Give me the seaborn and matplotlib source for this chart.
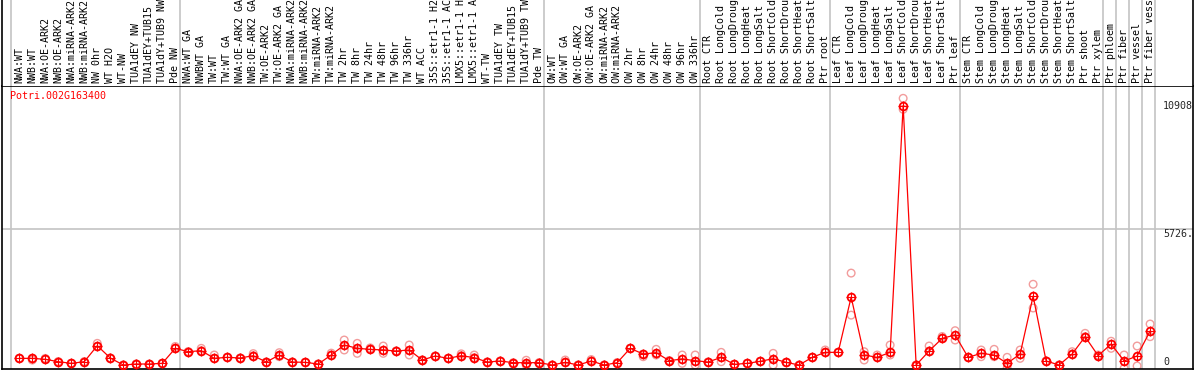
import numpy as np
import pandas as pd
import matplotlib
matplotlib.use("Agg")
import matplotlib.pyplot as plt
from matplotlib.transforms import blended_transform_factory
import seaborn as sns

sns.set_theme(style="white")
plt.rcParams["font.family"] = ["DejaVu Sans Mono", "DejaVu Sans"]

gene = "Potri.002G163400"

samples = [
    "NWA:WT", "NWB:WT", "NWA:OE-ARK2", "NWB:OE-ARK2", "NWA:miRNA-ARK2", "NWB:miRNA-ARK2",
    "NW 0hr", "WT H2O", "WT-NW", "TUA1dEY NW", "TUA1dEY+TUB15", "TUA1dY+TUB9 NW", "Pde NW",
    "NWA:WT GA", "NWBWT GA", "TW:WT", "TW:WT GA", "NWA:OE-ARK2 GA", "NWB:OE-ARK2 GA",
    "TW:OE-ARK2", "TW:OE-ARK2 GA", "NWA:miRNA-ARK2 GA", "NWB:miRNA-ARK2 GA", "TW:miRNA-ARK2",
    "TW:miRNA-ARK2 GA", "TW 2hr", "TW 8hr", "TW 24hr", "TW 48hr", "TW 96hr", "TW 336hr",
    "WT ACC", "35S::etr1-1 H2O", "35S::etr1-1 ACC", "LMX5::etr1-1 H2O", "LMX5::etr1-1 ACC",
    "WT-TW", "TUA1dEY TW", "TUA1dEY+TUB15 TW", "TUA1dY+TUB9 TW", "Pde TW",
    "OW:WT", "OW:WT GA", "OW:OE-ARK2", "OW:OE-ARK2 GA", "OW:miRNA-ARK2", "OW:miRNA-ARK2 GA",
    "OW 2hr", "OW 8hr", "OW 24hr", "OW 48hr", "OW 96hr", "OW 336hr",
    "Root CTR", "Root LongCold", "Root LongDrought", "Root LongHeat", "Root LongSalt",
    "Root ShortCold", "Root ShortDrought", "Root ShortHeat", "Root ShortSalt", "Ptr root",
    "Leaf CTR", "Leaf LongCold", "Leaf LongDrought", "Leaf LongHeat", "Leaf LongSalt",
    "Leaf ShortCold", "Leaf ShortDrought", "Leaf ShortHeat", "Leaf ShortSalt", "Ptr leaf",
    "Stem CTR", "Stem LongCold", "Stem LongDrought", "Stem LongHeat", "Stem LongSalt",
    "Stem ShortCold", "Stem ShortDrought", "Stem ShortHeat", "Stem ShortSalt",
    "Ptr shoot", "Ptr xylem", "Ptr phloem", "Ptr fiber", "Ptr vessel", "Ptr fiber vessel",
]

mean_expr = [
    280, 280, 240, 140, 70, 140, 813, 295, 0, 42, 42, 70, 702,
    561, 603, 280, 323, 295, 393, 126, 421, 126, 112, 42, 421, 842, 702, 660, 632, 590,
    632, 210, 379, 280, 393, 309, 126, 168, 98, 98, 98,
    0, 112, 0, 168, 0, 98, 702, 463, 519, 183, 253, 183,
    126, 323, 28, 70, 154, 267, 112, 0, 323, 533,
    533, 2860, 421, 323, 533, 10908, 0, 590, 1123, 1263,
    323, 491, 421, 70, 463, 2900, 168, 0, 463,
    1193, 393, 884, 168, 379, 1431,
]

rep_a = [
    280, 280, 280, 140, 70, 140, 912, 295, 0, 42, 42, 70, 780,
    561, 702, 421, 323, 295, 480, 126, 519, 126, 112, 42, 500, 1052, 912, 720, 800, 590,
    842, 210, 379, 280, 470, 420, 126, 168, 98, 200, 98,
    0, 210, 0, 230, 0, 98, 702, 463, 660, 183, 421, 421,
    126, 533, 28, 70, 154, 491, 112, 0, 323, 632,
    533, 3870, 561, 421, 842, 11228, 0, 800, 1200, 1445,
    323, 632, 660, 323, 632, 3400, 168, 0, 561,
    1334, 421, 1000, 421, 800, 1726,
]

rep_b = [
    280, 210, 240, 140, 70, 140, 770, 295, 0, 42, 0, 70, 702,
    561, 603, 280, 323, 295, 393, 126, 350, 126, 112, 42, 421, 632, 491, 660, 491, 590,
    421, 210, 379, 280, 393, 309, 126, 168, 60, 0, 98,
    0, 112, 0, 168, 0, 98, 702, 350, 421, 183, 70, 0,
    126, 140, 28, 70, 154, 0, 112, 0, 323, 533,
    533, 2100, 210, 323, 421, 10766, 0, 590, 1123, 1052,
    323, 350, 350, -140, 280, 2400, 168, 0, 463,
    1193, 393, 702, -140, -40, 1193,
]

group_ends = [0, 13, 41, 53, 63, 73, 84, 85, 86, 87, 88]
ytick_vals = [10908, 5726, 0]
ytick_text = ["10908", "5726.", "0"]

W, H = 1194, 370
fig = plt.figure(figsize=(W / 100, H / 100), dpi=100)
fig.patch.set_facecolor("white")

left_px, right_px = 2, 1193
top_plot, bot_plot = 86, 369
ax = fig.add_axes([left_px / W, (H - bot_plot) / H, (right_px - left_px) / W,
                   (bot_plot - top_plot) / H])
ax_lab = fig.add_axes([left_px / W, (H - top_plot) / H, (right_px - left_px) / W,
                       top_plot / H + 0.01])

x = np.arange(1, len(samples) + 1)
df = pd.DataFrame({"x": x, "sample": samples, "mean": mean_expr,
                   "rep_a": rep_a, "rep_b": rep_b})
reps = df.melt(id_vars="x", value_vars=["rep_a", "rep_b"], value_name="val")

xlim = (-0.33, 91.3)
for a in (ax, ax_lab):
    a.set_xlim(*xlim)
    a.set_facecolor("white")
    for e in group_ends:
        a.axvline(e + 0.4, color="#c4c4c4", lw=1.2, zorder=0)
    a.set_xticks([])
    a.set_yticks([])

ax.set_ylim(-168, 11747)
ax.axhline(5726, color="#c4c4c4", lw=1.2, zorder=0)
for sp in ax.spines.values():
    sp.set_color("black")
    sp.set_linewidth(1.2)

ax_lab.set_ylim(0, 1)
ax_lab.spines["top"].set_visible(False)
ax_lab.spines["bottom"].set_visible(False)
for s in ("left", "right"):
    ax_lab.spines[s].set_color("black")
    ax_lab.spines[s].set_linewidth(1.2)

# replicate points
sns.scatterplot(data=reps, x="x", y="val", ax=ax, marker="o", s=30,
                facecolors="none", edgecolor="#f29c9c", linewidth=1.0,
                zorder=2, legend=False, clip_on=True)

# mean line
sns.lineplot(data=df, x="x", y="mean", ax=ax, color="red", lw=0.9,
             marker="o", markersize=5.6, markerfacecolor="none",
             markeredgecolor="red", markeredgewidth=1.3, zorder=3)
ax.plot(df["x"], df["mean"], ls="none", marker="+", ms=6.6, mew=0.8,
        color="red", zorder=3)
ax.set_xlabel("")
ax.set_ylabel("")

# sample labels
tr = blended_transform_factory(ax_lab.transData, ax_lab.transAxes)
for xi, lab in zip(x, samples):
    ax_lab.text(xi, 0.035, lab, rotation=90, ha="center", va="bottom",
                fontsize=7.2, color="black", transform=tr)

# right-side value labels
ax.text(89.0, ytick_vals[0], ytick_text[0], ha="left", va="center", fontsize=7.2)
ax.text(89.0, ytick_vals[1], ytick_text[1], ha="left", va="top", fontsize=7.2)
ax.text(89.0, ytick_vals[2] + 120, ytick_text[2], ha="left", va="center", fontsize=7.2)

fig.text(10 / W, 1 - 91 / H, gene, color="red", fontsize=7.2, ha="left", va="top")

fig.savefig("out.png", dpi=100)
